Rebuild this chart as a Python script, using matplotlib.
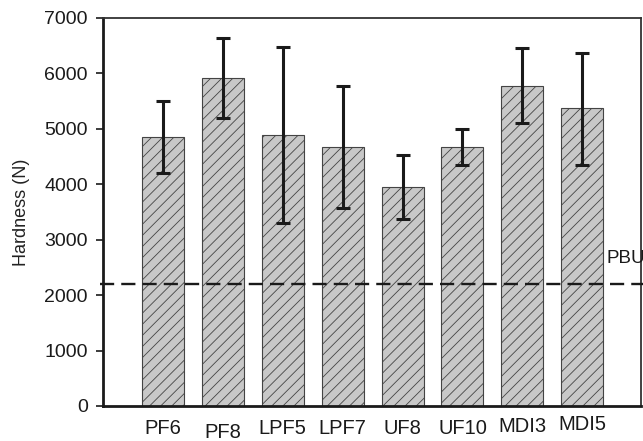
import matplotlib.pyplot as plt
import numpy as np

plt.rcParams['font.family'] = ['Liberation Sans', 'DejaVu Sans']
plt.rcParams['hatch.linewidth'] = 0.6
plt.rcParams['hatch.color'] = '#333333'

# data
samples = ["PF6", "PF8", "LPF5", "LPF7", "UF8", "UF10", "MDI3", "MDI5"]
hardness = [4850, 5920, 4890, 4670, 3950, 4670, 5780, 5370]
err_high = [5500, 6640, 6470, 5780, 4520, 5000, 6460, 6370]
err_low = [4200, 5190, 3310, 3570, 3370, 4350, 5100, 4350]
pbu_level = 2200
label_shift = [0, 4, 0, 0, 0, 0, -3, -4]  # staggered x labels, pixels

x = np.arange(len(samples))
yerr = [np.array(hardness) - np.array(err_low), np.array(err_high) - np.array(hardness)]

fig = plt.figure(figsize=(6.43, 4.41), dpi=100)
ax = fig.add_axes([103 / 643, 35 / 441, (641 - 103) / 643, (406 - 18) / 441])

ax.bar(x, hardness, width=0.7, color="#c8c8c8", edgecolor="#444444",
       linewidth=0.8, hatch="///", zorder=2)
ax.errorbar(x, hardness, yerr=yerr, fmt="none", ecolor="#1a1a1a",
            elinewidth=2.2, capsize=5, capthick=2.2, zorder=3)

ax.axhline(pbu_level, xmin=-0.006, xmax=1.01, color="#1a1a1a", lw=1.7,
           dashes=(6, 3), clip_on=False, zorder=4)
ax.text(7.40, 2660, "PBU", fontsize=13.5, va="center", ha="left",
        color="#1a1a1a", clip_on=False)

ax.set_xlim(-1, 7.98)
ax.set_ylim(0, 7000)
ax.set_yticks(range(0, 7001, 1000))
ax.tick_params(axis="y", labelsize=14, length=5, width=1.2, pad=6,
               colors="#1a1a1a")
ax.set_xticks([])
ax.set_ylabel("Hardness (N)", fontsize=13, color="#222222", labelpad=10)

for xi, name, dy in zip(x, samples, label_shift):
    y_pix = 429 + dy
    ax.text(xi, 1 - (y_pix - 18) / (406 - 18), name, transform=ax.get_xaxis_transform(),
            ha="center", va="center", fontsize=14.5, color="#1a1a1a")

for side in ["left", "bottom"]:
    ax.spines[side].set_linewidth(2)
    ax.spines[side].set_color("#1a1a1a")
for side in ["top", "right"]:
    ax.spines[side].set_linewidth(1.3)
    ax.spines[side].set_color("#333333")

fig.savefig("out.png", dpi=100)
